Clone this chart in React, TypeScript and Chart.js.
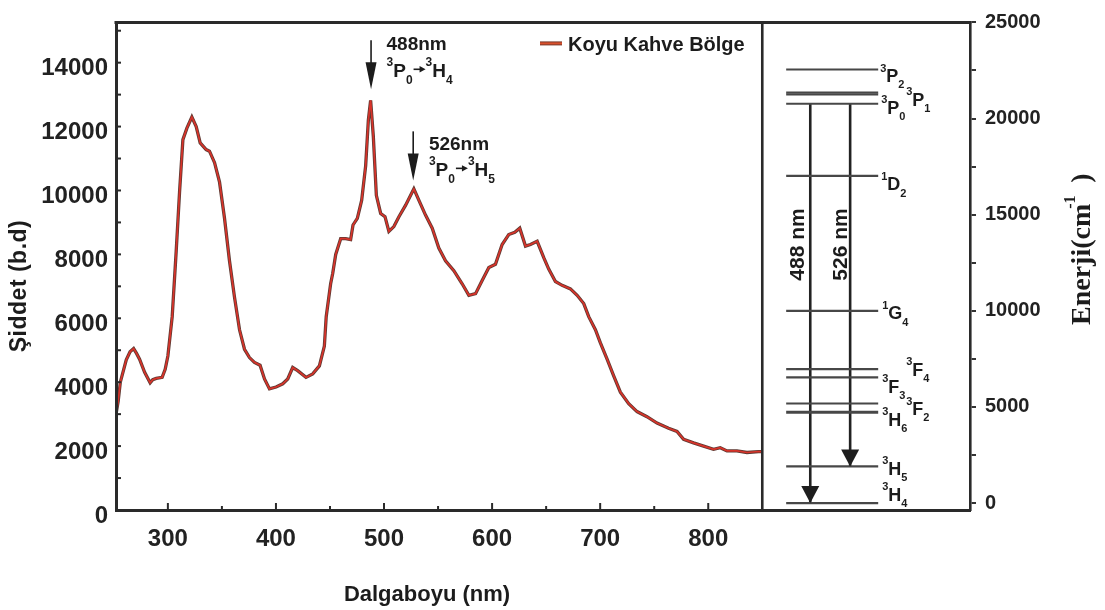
import React, { useEffect, useRef } from 'react';
import { Chart, registerables } from 'chart.js';

Chart.register(...registerables);

// ---------- data ----------
const wavelength = [
  252, 254, 256, 261.5, 265, 268.3, 271, 273.8, 278.5, 283.6, 286, 289.2, 294.7, 297.5,
  300, 304, 307.7, 310.8, 313.9, 317.6, 322.2, 326.2, 329.9, 335.4, 338.5, 343.2, 347.8,
  352.4, 357, 361.6, 366.3, 370.9, 375.5, 380.1, 385.3, 389.4, 394, 400.1, 406.3, 410.9,
  415.5, 420.1, 427.8, 434, 440.2, 444.8, 446.5, 450.6, 452.5, 455.3, 459.9, 464.5, 469.1,
  471.3, 475.3, 479.3, 483, 485.5, 487.6, 490.1, 492.9, 496.9, 500.9, 504.5, 509.1, 513.8,
  520, 527.6, 532.3, 538.4, 544.6, 550.7, 556.9, 564.6, 572.3, 578.5, 584.7, 590.8, 597,
  603.1, 609.3, 615.4, 621, 625.6, 630.9, 635.5, 641.7, 647.8, 652.4, 658.6, 664.8, 672.5,
  678.7, 684.8, 689.4, 695.6, 700.2, 706.4, 712.5, 718.7, 726.4, 734.1, 743.3, 752.6,
  763.3, 771.1, 777.2, 786.4, 795.7, 804.9, 811.1, 817.3, 826.5, 835.8, 846.5, 850,
];
const intensity = [
  3000, 3400, 4000, 4700, 4950, 5050, 4900, 4720, 4310, 3980, 4080, 4120, 4150, 4400,
  4820, 6050, 8100, 9950, 11590, 11950, 12300, 12000, 11490, 11280, 11230, 10870, 10260,
  9130, 7800, 6670, 5640, 5030, 4770, 4620, 4530, 4100, 3790, 3850, 3950, 4100,
  4460, 4360, 4150, 4260, 4510, 5130, 6050, 7080, 7400, 8000, 8490, 8490, 8460,
  8920, 9130, 9690, 10770, 12200, 12820, 11690, 9850, 9280, 9180, 8720, 8870, 9180,
  9540, 10050, 9690, 9230, 8820, 8200, 7800, 7490, 7080, 6720, 6770, 7180, 7590,
  7690, 8310, 8620, 8690, 8820, 8260, 8310, 8410, 7900, 7540, 7150, 7030, 6920,
  6720, 6460, 6050, 5640, 5230, 4720, 4200, 3690, 3330, 3080, 2920, 2720,
  2560, 2460, 2210, 2100, 2000, 1900, 1950, 1850, 1850, 1800, 1830, 1830,
];
const seriesName = 'Koyu Kahve Bölge';

const xTickLabels = [300, 400, 500, 600, 700, 800];
const xMinorTicks = [350, 450, 550, 650, 750];
const yTickLabels = [0, 2000, 4000, 6000, 8000, 10000, 12000, 14000];
const yInnerTicks = [1000, 2000, 3000, 4000, 5000, 6000, 7000, 8000, 9000, 10000, 11000, 12000, 13000, 14000, 15000];
const energyTicks = [0, 2500, 5000, 7500, 10000, 12500, 15000, 17500, 20000, 22500, 25000];

// energy level diagram (cm^-1)
const levelNames = ['^3P_2', '^3P_1', '', '^3P_0', '^1D_2', '^1G_4', '^3F_4', '^3F_3', '^3F_2', '^3H_6', '^3H_5', '^3H_4'];
const levelEnergy = [22550, 21350, 21250, 20770, 17020, 10000, 6970, 6540, 5180, 4720, 1910, 0];
const transitionName = ['488 nm', '526 nm'];
const transitionFrom = [20770, 20770];
const transitionTo = [0, 1910];

// peak annotations on the spectrum
const peakWavelength = [488, 527];
const peakLabel = ['488nm', '526nm'];
const peakTransition = ['^3P_0>^3H_4', '^3P_0>^3H_5'];
const peakArrowTop = [14700, 11850];
const peakArrowTip = [13170, 10310];

// ---------- layout / style ----------
const X_MIN = 252;
const X_DIV = 850;
const X_MAX = 1042.2;
const XR_MIN = (X_MIN - X_DIV) / (X_MAX - X_DIV);
const Y_MAX = 15260;
const E_MIN = -358;
const E_MAX = 25000;
const LEVEL_X = [0.115, 0.558];
const TRANSITION_X = [0.231, 0.423];
const TRANSITION_LABEL_DX = [-13.5, -10];
const TRANSITION_LABEL_E = 13450;
const LEVEL_LABEL_OFF: Array<[number, number] | null> = [
  [0, 6], [26, 6.5], null, [1, 3.5], [1, 8], [2, 2], [26, 0], [2, 9], [26, 5], [2, 7], [2, 2], [2, -9],
];
const PEAK_TEXT_DX = [15.5, 15.7];
const PEAK_LINE1_DY = [3, 12];
const PEAK_LINE2_DY = [30, 38];

const FONT = '"Liberation Sans", Arial, Helvetica, sans-serif';
const SERIF = '"Liberation Serif", "Times New Roman", serif';
const INK = '#1c1c1c';
const AXIS = '#2a2a2a';

function drawRich(ctx: CanvasRenderingContext2D, markup: string, x: number, yc: number, size: number, small: number) {
  let cx = x;
  const base = yc + 0.36 * size;
  let i = 0;
  ctx.textAlign = 'left';
  ctx.textBaseline = 'alphabetic';
  while (i < markup.length) {
    const c = markup[i];
    if (c === '>') {
      const ay = yc - 1;
      ctx.save();
      ctx.strokeStyle = INK;
      ctx.fillStyle = INK;
      ctx.lineWidth = 1.6;
      ctx.beginPath();
      ctx.moveTo(cx + 1, ay);
      ctx.lineTo(cx + 8, ay);
      ctx.stroke();
      ctx.beginPath();
      ctx.moveTo(cx + 7, ay - 3.2);
      ctx.lineTo(cx + 13, ay);
      ctx.lineTo(cx + 7, ay + 3.2);
      ctx.closePath();
      ctx.fill();
      ctx.restore();
      cx += 13;
      i++;
      continue;
    }
    let kind = 'main';
    let ch = c;
    if (c === '^' || c === '_') {
      kind = c === '^' ? 'sup' : 'sub';
      ch = markup[i + 1];
      i += 2;
    } else {
      i++;
    }
    const s = kind === 'main' ? size : small;
    ctx.font = `bold ${s}px ${FONT}`;
    const by = kind === 'main' ? base : kind === 'sup' ? base - 0.58 * size : base + 0.36 * size;
    ctx.fillText(ch, cx, by);
    cx += ctx.measureText(ch).width;
  }
}

const decorPlugin = {
  id: 'decor',
  afterDraw(chart: any) {
    const { ctx, chartArea: ca } = chart;
    const sx = chart.scales.x;
    const sy = chart.scales.y;
    const sxr = chart.scales.xr;
    const sy2 = chart.scales.y2;
    const seg = (x1: number, y1: number, x2: number, y2: number) => {
      ctx.beginPath();
      ctx.moveTo(x1, y1);
      ctx.lineTo(x2, y2);
      ctx.stroke();
    };
    ctx.save();
    ctx.strokeStyle = AXIS;
    ctx.fillStyle = INK;
    // top frame and divider
    ctx.lineWidth = 3;
    seg(ca.left - 1.5, ca.top, ca.right + 1.25, ca.top);
    const xd = sx.getPixelForValue(X_DIV);
    ctx.lineWidth = 2.6;
    seg(xd, ca.top, xd, ca.bottom);
    // inner ticks
    ctx.lineWidth = 2;
    for (const v of yInnerTicks) {
      const py = sy.getPixelForValue(v);
      seg(ca.left, py, ca.left + 5, py);
    }
    for (const v of xTickLabels) {
      const px = sx.getPixelForValue(v);
      seg(px, ca.bottom, px, ca.bottom - 7);
    }
    for (const v of xMinorTicks) {
      const px = sx.getPixelForValue(v);
      seg(px, ca.bottom, px, ca.bottom - 4);
    }

    // peak annotations
    for (let i = 0; i < peakWavelength.length; i++) {
      const ax = sx.getPixelForValue(peakWavelength[i]);
      const top = sy.getPixelForValue(peakArrowTop[i]);
      const tip = sy.getPixelForValue(peakArrowTip[i]);
      ctx.strokeStyle = INK;
      ctx.lineWidth = 1.6;
      seg(ax, top, ax, tip - 20);
      ctx.beginPath();
      ctx.moveTo(ax, tip);
      ctx.lineTo(ax - 5.5, tip - 27);
      ctx.lineTo(ax + 5.5, tip - 27);
      ctx.closePath();
      ctx.fill();
      const tx = ax + PEAK_TEXT_DX[i];
      ctx.font = `bold 19px ${FONT}`;
      ctx.textAlign = 'left';
      ctx.textBaseline = 'alphabetic';
      ctx.fillText(peakLabel[i], tx, top + PEAK_LINE1_DY[i] + 0.36 * 19);
      drawRich(ctx, peakTransition[i], tx, top + PEAK_LINE2_DY[i], 19, 12);
    }

    // legend
    const lx = ca.left + 424;
    const ly = ca.top + 21;
    ctx.strokeStyle = '#7a3a2c';
    ctx.lineWidth = 4;
    seg(lx, ly, lx + 22, ly);
    ctx.strokeStyle = '#d9502c';
    ctx.lineWidth = 2;
    seg(lx, ly, lx + 22, ly);
    ctx.fillStyle = INK;
    ctx.font = `bold 20px ${FONT}`;
    ctx.textAlign = 'left';
    ctx.textBaseline = 'alphabetic';
    ctx.fillText(seriesName, lx + 28, ly + 8);

    // transition arrowheads and labels
    for (let i = 0; i < transitionTo.length; i++) {
      const px = sxr.getPixelForValue(TRANSITION_X[i]);
      const tip = sy2.getPixelForValue(transitionTo[i]);
      ctx.fillStyle = '#1e1e1e';
      ctx.beginPath();
      ctx.moveTo(px, tip);
      ctx.lineTo(px - 9, tip - 17);
      ctx.lineTo(px + 9, tip - 17);
      ctx.closePath();
      ctx.fill();
      ctx.save();
      ctx.translate(px + TRANSITION_LABEL_DX[i], sy2.getPixelForValue(TRANSITION_LABEL_E));
      ctx.rotate(-Math.PI / 2);
      ctx.font = `bold 21px ${FONT}`;
      ctx.textAlign = 'center';
      ctx.textBaseline = 'middle';
      ctx.fillStyle = INK;
      ctx.fillText(transitionName[i], 0, 1);
      ctx.restore();
    }

    // level labels
    ctx.fillStyle = INK;
    const labelX = sxr.getPixelForValue(LEVEL_X[1]) + 2;
    for (let i = 0; i < levelNames.length; i++) {
      const off = LEVEL_LABEL_OFF[i];
      if (!levelNames[i] || !off) continue;
      drawRich(ctx, levelNames[i], labelX + off[0], sy2.getPixelForValue(levelEnergy[i]) + off[1], 18, 11);
    }

    // axis titles
    ctx.fillStyle = INK;
    ctx.font = `bold 22px ${FONT}`;
    ctx.textAlign = 'center';
    ctx.textBaseline = 'alphabetic';
    ctx.fillText('Dalgaboyu (nm)', 427, 601);

    ctx.save();
    ctx.translate(26, 286);
    ctx.rotate(-Math.PI / 2);
    ctx.font = `bold 23px ${FONT}`;
    (ctx as any).letterSpacing = '0.5px';
    ctx.textAlign = 'center';
    ctx.fillText('Şiddet (b.d)', 0, 0);
    ctx.restore();

    ctx.save();
    ctx.translate(1090, 325);
    ctx.rotate(-Math.PI / 2);
    ctx.textAlign = 'left';
    ctx.font = `bold 28px ${SERIF}`;
    const main = 'Enerji(cm';
    ctx.fillText(main, 0, 0);
    const w = ctx.measureText(main).width;
    ctx.font = `bold 16px ${SERIF}`;
    ctx.fillText('-1', w - 5, -15);
    ctx.font = `bold 28px ${SERIF}`;
    ctx.fillText(')', w + 21, 0);
    ctx.restore();

    ctx.restore();
  },
};

export default function App() {
  const ref = useRef<HTMLCanvasElement | null>(null);
  useEffect(() => {
    if (!ref.current) return;
    const pts = wavelength.map((x, i) => ({ x, y: intensity[i] }));
    const datasets: any[] = [
      // red core on top (lower order is drawn last)
      { label: seriesName, data: pts, borderColor: '#d8332a', borderWidth: 1.7, pointRadius: 0, tension: 0, order: 0, xAxisID: 'x', yAxisID: 'y' },
      { label: seriesName + ' edge', data: pts, borderColor: '#5e3a33', borderWidth: 3.3, pointRadius: 0, tension: 0, order: 1, xAxisID: 'x', yAxisID: 'y' },
    ];
    levelEnergy.forEach((e, i) => {
      datasets.push({
        label: 'level ' + i,
        data: [{ x: LEVEL_X[0], y: e }, { x: LEVEL_X[1], y: e }],
        borderColor: '#474747',
        borderWidth: i === 9 ? 3 : 2.2,
        pointRadius: 0,
        order: 2,
        xAxisID: 'xr',
        yAxisID: 'y2',
      });
    });
    transitionTo.forEach((e, i) => {
      datasets.push({
        label: transitionName[i],
        data: [{ x: TRANSITION_X[i], y: transitionFrom[i] }, { x: TRANSITION_X[i], y: e }],
        borderColor: '#222222',
        borderWidth: 2.6,
        pointRadius: 0,
        order: 2,
        xAxisID: 'xr',
        yAxisID: 'y2',
      });
    });

    const tickFont = { family: FONT, size: 24, weight: 'bold' as const };
    const chart = new Chart(ref.current, {
      type: 'line',
      data: { datasets },
      options: {
        animation: false,
        responsive: false,
        maintainAspectRatio: false,
        events: [],
        layout: { padding: { top: 14, left: 0, right: 0, bottom: 0 } },
        plugins: { legend: { display: false }, tooltip: { enabled: false } },
        scales: {
          x: {
            type: 'linear',
            min: X_MIN,
            max: X_MAX,
            afterBuildTicks: (s: any) => { s.ticks = xTickLabels.map((v) => ({ value: v })); },
            afterFit: (s: any) => { s.height = 100; },
            grid: { display: false, drawTicks: false },
            border: { display: true, color: AXIS, width: 3, z: 1 },
            ticks: { font: tickFont, color: '#222', padding: 15, autoSkip: false, maxRotation: 0, callback: (v: any) => String(v) },
          },
          xr: { type: 'linear', display: false, min: XR_MIN, max: 1 },
          y: {
            type: 'linear',
            position: 'left',
            min: 0,
            max: Y_MAX,
            afterBuildTicks: (s: any) => { s.ticks = yTickLabels.map((v) => ({ value: v })); },
            afterFit: (s: any) => { s.width = 116; },
            grid: { display: false, drawTicks: false },
            border: { display: true, color: AXIS, width: 3, z: 1 },
            ticks: { font: tickFont, color: '#222', padding: 8, labelOffset: 6, callback: (v: any) => String(v) },
          },
          y2: {
            type: 'linear',
            position: 'right',
            min: E_MIN,
            max: E_MAX,
            afterBuildTicks: (s: any) => { s.ticks = energyTicks.map((v) => ({ value: v })); },
            afterFit: (s: any) => { s.width = 135; },
            grid: { display: true, drawOnChartArea: false, drawTicks: true, tickLength: 6, color: '#333', lineWidth: 2 },
            border: { display: true, color: AXIS, width: 2.6, z: 1 },
            ticks: {
              font: { family: FONT, size: 20, weight: 'bold' },
              color: '#222',
              padding: 9,
              callback: (v: any) => (Number(v) % 5000 === 0 ? String(v) : ''),
            },
          },
        },
      },
      plugins: [decorPlugin],
    } as any);
    return () => chart.destroy();
  }, []);
  return (
    <div style={{ position: 'fixed', left: 0, top: 0, width: 1105, height: 610, background: '#fff' }}>
      <canvas ref={ref} width={1105} height={610} style={{ display: 'block' }} />
    </div>
  );
}
